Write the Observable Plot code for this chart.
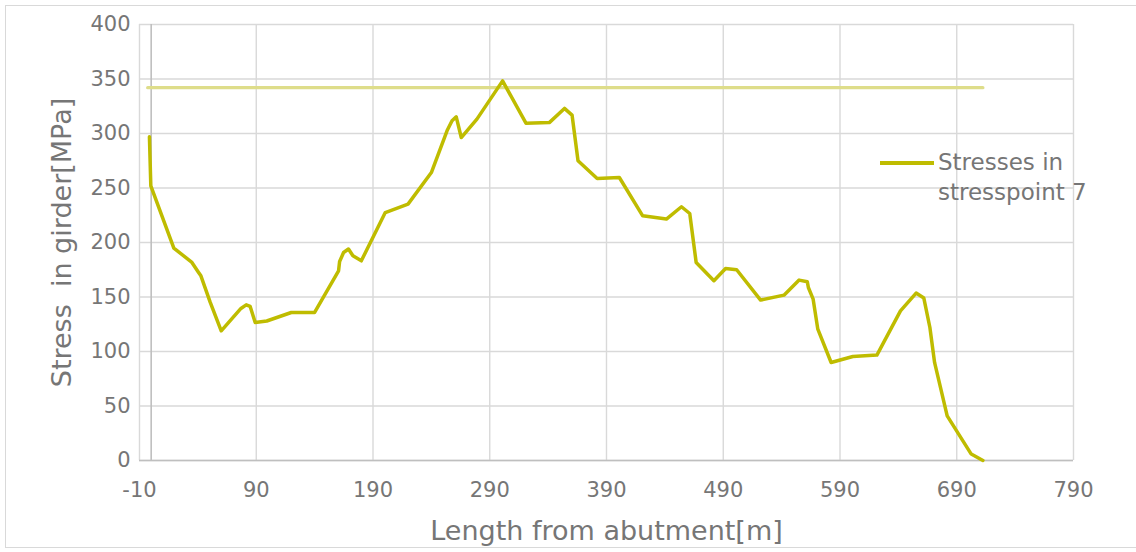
<!DOCTYPE html>
<html>
<head>
<meta charset="utf-8">
<script src="https://cdn.jsdelivr.net/npm/d3@7"></script>
<script src="https://cdn.jsdelivr.net/npm/@observablehq/plot@0.6"></script>
<style>
  html, body { margin: 0; padding: 0; background: #fff; }
  #wrap { position: relative; width: 1136px; height: 552px; overflow: hidden; font-family: "DejaVu Sans", Verdana, sans-serif; }
  #frame { position: absolute; left: 5px; top: 5px; width: 1140px; height: 543px; border: 1px solid #d9d9d9; box-sizing: border-box; }
  #legend { position: absolute; left: 880px; top: 147px; display: flex; align-items: flex-start; color: #767676; font-size: 23px; line-height: 30px; }
  #legend .sw { width: 54px; height: 4px; background: #bfbc00; margin-top: 14px; margin-right: 4px; }
  svg { position: absolute; left: 0; top: 0; }
</style>
</head>
<body>
<div id="wrap">
  <div id="frame"></div>
  <div id="chart"></div>
  <div id="legend"><div class="sw"></div><div id="legtext"></div></div>
</div>
<script>
// Data
const lengthM = [-1.5, -0.3, 19.4, 34.9, 40.6, 42.6, 50.6, 60, 76.9, 81.4, 84.8, 89.1, 99, 120, 140, 160.5, 161.4, 164.8, 169, 172.8, 180, 200.5, 220, 240, 253.4, 257.7, 261.3, 265.6, 279, 301, 321, 341, 354, 360.5, 365.6, 382, 401, 421, 441.3, 454.2, 461.3, 466.8, 482, 492, 501.5, 522, 542, 555, 562, 562.9, 567, 571, 582.4, 601, 621.6, 641.8, 655.2, 661.8, 667, 671, 681.8, 702.4, 712.4];
const stressMPa = [297, 252, 194.9, 181.7, 172.5, 169.4, 145, 119, 139.5, 142.8, 141.3, 126.6, 128, 135.8, 135.8, 174, 182.6, 190.8, 194, 187.8, 183.2, 227.5, 235.2, 264.2, 302.5, 311.7, 315.3, 296.3, 313.2, 348.3, 309.5, 310, 323, 316.9, 275, 258.7, 259.6, 224.5, 221.5, 232.8, 226.6, 181.7, 164.9, 176.1, 175, 147.2, 151.7, 165.5, 164, 158.7, 148, 120.5, 89.9, 95.4, 96.7, 137.3, 153.6, 149, 122, 90, 41, 5.9, 0];
const limitLength = [-3, 712.4];
const limitStress = [342, 342];
const xTicks = [-10, 90, 190, 290, 390, 490, 590, 690, 790];
const yTicks = [0, 50, 100, 150, 200, 250, 300, 350, 400];
const seriesName = ["Stresses in", "stresspoint 7"];
const xLabel = "Length from abutment[m]";
const yLabel = "Stress  in girder[MPa]";

const main = lengthM.map((x, i) => ({x, y: stressMPa[i]}));
const limit = limitLength.map((x, i) => ({x, y: limitStress[i]}));

const textColor = "#767676";
const chart = Plot.plot({
  width: 1136,
  height: 552,
  marginLeft: 139,
  marginRight: 63,
  marginTop: 24,
  marginBottom: 92,
  style: { fontFamily: "'DejaVu Sans', Verdana, sans-serif", background: "transparent", overflow: "visible" },
  x: { domain: [-10, 790] },
  y: { domain: [0, 400] },
  marks: [
    Plot.gridX(xTicks, { stroke: "#d9d9d9", strokeOpacity: 1, strokeWidth: 1.4 }),
    Plot.gridY(yTicks, { stroke: "#d9d9d9", strokeOpacity: 1, strokeWidth: 1.4 }),
    Plot.ruleX([0], { stroke: "#bfbfbf", strokeWidth: 1.6 }),
    Plot.ruleY([0], { stroke: "#bfbfbf", strokeWidth: 1.6 }),
    Plot.axisX({ ticks: xTicks, tickSize: 0, tickPadding: 22, fontSize: 21, fill: textColor, label: null, tickFormat: d => String(d) }),
    Plot.axisY({ ticks: yTicks, tickSize: 0, tickPadding: 9, fontSize: 21, fill: textColor, label: null, tickFormat: d => String(d) }),
    Plot.text([xLabel], { frameAnchor: "bottom", dy: 79, fontSize: 27, fill: textColor }),
    Plot.text([yLabel], { frameAnchor: "left", dx: -77, rotate: -90, textAnchor: "middle", fontSize: 27, fill: textColor }),
    Plot.line(limit, { x: "x", y: "y", stroke: "#dedd8a", strokeWidth: 3.2 }),
    Plot.line(main, { x: "x", y: "y", stroke: "#bfbc00", strokeWidth: 3.5, strokeLinejoin: "round" })
  ]
});
document.getElementById("chart").appendChild(chart);
document.getElementById("legtext").innerHTML = seriesName.join("<br>");
</script>
</body>
</html>
